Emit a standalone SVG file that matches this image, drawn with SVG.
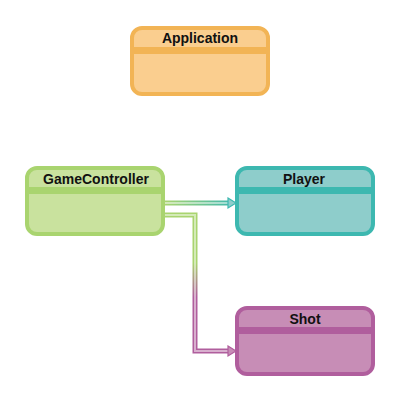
<svg xmlns="http://www.w3.org/2000/svg" width="400" height="400" viewBox="0 0 400 400">
<defs>
<style>
.box{stroke-width:4}
.t{font-family:"Liberation Sans",Arial,sans-serif;font-weight:bold;font-size:14px;text-anchor:middle;fill:#111}
.app .box{fill:#FACE8F;stroke:#F2B455}
.app .band{fill:#F2B455}
.gc .box{fill:#C9E29E;stroke:#A9D46F}
.gc .band{fill:#A9D46F}
.pl .box{fill:#8ECDCB;stroke:#3DB8B0}
.pl .band{fill:#3DB8B0}
.sh .box{fill:#C78DB6;stroke:#B05E9D}
.sh .band{fill:#B05E9D}
.inner{fill:none;stroke:#ffffff;stroke-opacity:0.5;stroke-width:2}
</style>
<linearGradient id="g1" gradientUnits="userSpaceOnUse" x1="165" y1="0" x2="235" y2="0">
<stop offset="0" stop-color="#A9D46F"/>
<stop offset="1" stop-color="#3DB8B0"/>
</linearGradient>
<linearGradient id="g2" gradientUnits="userSpaceOnUse" x1="0" y1="215" x2="0" y2="352">
<stop offset="0" stop-color="#A9D46F"/>
<stop offset="0.35" stop-color="#A9D46F"/>
<stop offset="0.6" stop-color="#B05E9D"/>
<stop offset="1" stop-color="#B05E9D"/>
</linearGradient>
</defs>

<g id="Application" class="app">
<rect class="box" x="132" y="28" width="136" height="66" rx="10"/>
<rect class="band" x="132" y="47" width="136" height="7"/>
<text class="t" x="200" y="43">Application</text>
</g>

<g id="GameController" class="gc">
<rect class="box" x="27" y="168" width="136" height="66" rx="10"/>
<rect class="band" x="27" y="187" width="136" height="7"/>
<text class="t" x="96" y="184">GameController</text>
</g>

<g id="Player" class="pl">
<rect class="box" x="237" y="168" width="136" height="66" rx="10"/>
<rect class="band" x="237" y="187" width="136" height="7"/>
<text class="t" x="304" y="184">Player</text>
</g>

<g id="Shot" class="sh">
<rect class="box" x="237" y="308" width="136" height="66" rx="10"/>
<rect class="band" x="237" y="327" width="136" height="7"/>
<text class="t" x="305" y="324">Shot</text>
</g>

<g id="connectors">
<path d="M165,203 H229" fill="none" stroke="url(#g1)" stroke-width="5"/>
<path d="M165,203 H229" class="inner"/>
<polygon points="228,198 236,203 228,208" fill="#8ECDCB" stroke="#3DB8B0" stroke-width="1.2"/>
<path d="M165,215 H195 V351 H229" fill="none" stroke="url(#g2)" stroke-width="5" stroke-linejoin="miter"/>
<path d="M165,215 H195 V351 H229" class="inner"/>
<polygon points="228,346 236,351 228,356" fill="#C78DB6" stroke="#B05E9D" stroke-width="1.2"/>
</g>
</svg>
